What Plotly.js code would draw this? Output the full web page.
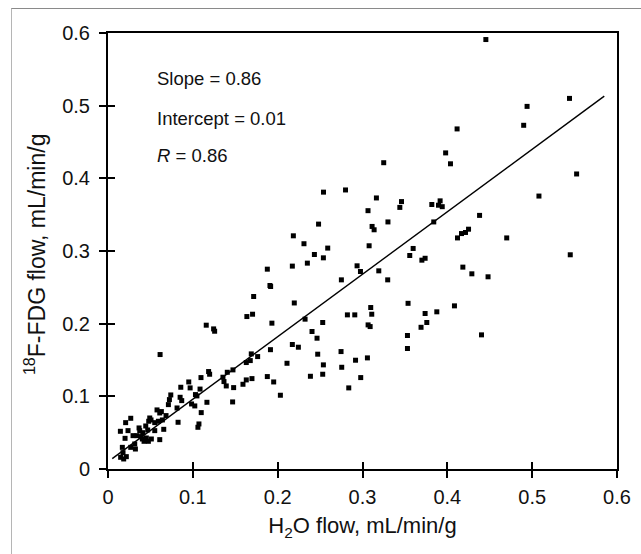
<!DOCTYPE html>
<html>
<head>
<meta charset="utf-8">
<script src="https://cdn.plot.ly/plotly-3.0.1.min.js"></script>
<style>
  html, body { margin: 0; padding: 0; background: #fff; }
  #wrap { position: relative; width: 641px; height: 554px; overflow: hidden; }
  #frame { position: absolute; left: 11px; top: 8px; width: 700px; height: 700px;
           border-top: 1.5px solid #8a8a8a; border-left: 1.5px solid #b5b5b5; pointer-events: none; }
  #chart { position: absolute; left: 0; top: 0; width: 641px; height: 554px; }
</style>
</head>
<body>
<div id="wrap">
  <div id="chart"></div>
  <div id="frame"></div>
</div>
<script>
// H2O flow (x) and 18F-FDG flow (y), mL/min/g
const h2oFlow = [
  0.0858,0.0952,0.0968,0.0740,0.0724,0.0712,0.0850,0.0869,0.0814,0.1031,0.1023,0.0578,0.0610,0.0629,
  0.0492,0.0507,0.0480,0.0684,0.0641,0.0551,0.0268,0.0208,0.0445,0.0468,0.0409,0.0366,0.0551,0.0657,
  0.0594,0.0146,0.0236,0.0201,0.0295,0.0342,0.0389,0.0405,0.0452,0.0511,0.0610,0.0425,0.0476,0.0374,
  0.0315,0.0268,0.0169,0.0323,0.0177,0.0149,0.0216,0.0185,0.0826,0.1060,0.1072,0.1085,0.0614,0.0985,
  0.1158,0.1245,0.1257,0.1637,0.1704,0.1717,0.2196,0.1932,0.2173,0.2244,0.1915,0.1689,0.1677,0.1630,
  0.1764,0.2110,0.1186,0.1198,0.1096,0.1406,0.1473,0.1355,0.1367,0.1394,0.1481,0.1591,0.1630,0.1697,
  0.1878,0.1953,0.2032,0.1469,0.1166,0.1048,0.1099,0.1878,0.1909,0.1917,
  0.2482,0.2185,0.2310,0.3113,0.3137,0.2590,0.2433,0.2539,0.2350,0.2173,0.3078,0.2936,0.2976,0.3192,
  0.2751,0.2822,0.2909,0.3097,0.3109,0.3066,0.3090,0.2323,0.2531,0.2405,0.2464,0.2472,0.2747,0.2539,
  0.2755,0.2918,0.3058,0.2386,0.2531,0.2979,0.2838,0.2540,0.2800,0.3164,0.3065,
  0.4454,0.5440,0.4940,0.4900,0.4115,0.3250,0.3980,0.4037,0.5524,0.3460,0.3440,0.3817,0.3915,0.3896,
  0.3940,0.5080,0.3300,0.3840,0.4380,0.4120,0.4167,0.4214,0.4250,0.4700,0.3597,0.3557,0.3700,0.3738,
  0.3297,0.4183,0.4289,0.4480,0.5449,0.3537,0.4084,0.3876,0.3738,0.3758,0.3690,0.3530,0.3530,0.4403
];
const fdgFlow = [
  0.1125,0.1198,0.1116,0.1019,0.0955,0.0886,0.0987,0.0941,0.0840,0.1024,0.0868,0.0813,0.0771,0.0790,
  0.0702,0.0675,0.0657,0.0735,0.0675,0.0638,0.0698,0.0638,0.0592,0.0537,0.0500,0.0565,0.0528,0.0546,
  0.0657,0.0519,0.0528,0.0422,0.0459,0.0459,0.0445,0.0413,0.0427,0.0413,0.0404,0.0381,0.0381,0.0528,
  0.0344,0.0298,0.0298,0.0275,0.0225,0.0161,0.0170,0.0138,0.0643,0.0574,0.0620,0.1100,0.1575,0.0895,
  0.1979,0.1928,0.1896,0.2098,0.2130,0.2374,0.2285,0.2007,0.1713,0.1676,0.1642,0.1584,0.1492,0.1465,
  0.1547,0.1455,0.1341,0.1304,0.1258,0.1331,0.1364,0.1263,0.1203,0.1143,0.1120,0.1166,0.1226,0.1244,
  0.1272,0.1198,0.1015,0.0923,0.0918,0.1006,0.0776,0.2750,0.2525,0.2511,
  0.3370,0.3209,0.3100,0.3338,0.3292,0.3040,0.2952,0.2906,0.2833,0.2792,0.3072,0.2796,0.2718,0.2727,
  0.2603,0.2121,0.2121,0.2222,0.2130,0.1983,0.1960,0.2062,0.2016,0.1892,0.1800,0.1580,0.1616,0.1433,
  0.1400,0.1497,0.1529,0.1276,0.1304,0.1258,0.1116,0.3810,0.3840,0.3730,0.3555,
  0.5910,0.5100,0.4990,0.4730,0.4680,0.4215,0.4350,0.4200,0.4060,0.3680,0.3600,0.3640,0.3690,0.3630,
  0.3610,0.3756,0.3400,0.3400,0.3490,0.3180,0.3240,0.3255,0.3300,0.3180,0.3035,0.2938,0.2874,0.2900,
  0.2603,0.2778,0.2686,0.2645,0.2948,0.2280,0.2245,0.2163,0.2140,0.2016,0.1950,0.1837,0.1658,0.1846
];
const fitSlope = 0.86;
const fitIntercept = 0.01;
const fitR = 0.86;
const fitXRange = [0.005, 0.585];
const xTickVals = [0, 0.1, 0.2, 0.3, 0.4, 0.5, 0.6];
const xTickText = ['0', '0.1', '0.2', '0.3', '0.4', '0.5', '0.6'];
const yTickVals = [0, 0.1, 0.2, 0.3, 0.4, 0.5, 0.6];
const yTickText = ['0', '0.1', '0.2', '0.3', '0.4', '0.5', '0.6'];
const xTitle = 'H<sub>2</sub>O flow, mL/min/g';
const yTitle = '<sup>18</sup>F-FDG flow, mL/min/g';

const FONT = 'Liberation Sans, Arial, Helvetica, sans-serif';
const INK = '#111';

const fitY = fitXRange.map(x => fitSlope * x + fitIntercept);

const traces = [
  {
    type: 'scatter', mode: 'lines', x: fitXRange, y: fitY,
    line: { color: '#000', width: 1.4 }, hoverinfo: 'skip', showlegend: false
  },
  {
    type: 'scatter', mode: 'markers', x: h2oFlow, y: fdgFlow,
    marker: { symbol: 'square', size: 5, color: '#000', line: { width: 0 } },
    showlegend: false
  },
  { type: 'scatter', x: [], y: [], xaxis: 'x2', yaxis: 'y2', showlegend: false, hoverinfo: 'skip' }
];

const baseAxis = {
  range: [0, 0.6], showgrid: false, zeroline: false, showline: true, mirror: true,
  linecolor: '#000', linewidth: 2, ticks: 'outside', ticklen: 7, tickwidth: 2, tickcolor: '#000',
  tickfont: { family: FONT, size: 20, color: INK }, automargin: false, fixedrange: true
};

const layout = {
  width: 641, height: 554,
  margin: { l: 108, r: 24, t: 33, b: 85, pad: 0 },
  paper_bgcolor: 'rgba(0,0,0,0)', plot_bgcolor: '#fff',
  showlegend: false,
  font: { family: FONT, color: INK },
  xaxis: Object.assign({}, baseAxis, {
    tickmode: 'array', tickvals: xTickVals, ticktext: xTickText,
    ticklabelstandoff: 2,
    title: { text: xTitle, font: { family: FONT, size: 22, color: INK }, standoff: 11 }
  }),
  yaxis: Object.assign({}, baseAxis, {
    tickmode: 'array', tickvals: yTickVals, ticktext: yTickText,
    ticklabelstandoff: 5
  }),
  xaxis2: {
    overlaying: 'x', anchor: 'y', side: 'bottom', range: [0, 0.6], showgrid: false, zeroline: false,
    showline: false, ticks: 'inside', ticklen: 7, tickwidth: 2, tickcolor: '#000',
    tickmode: 'array', tickvals: xTickVals, showticklabels: false, fixedrange: true
  },
  yaxis2: {
    overlaying: 'y', anchor: 'x', side: 'left', range: [0, 0.6], showgrid: false, zeroline: false,
    showline: false, ticks: 'inside', ticklen: 7, tickwidth: 2, tickcolor: '#000',
    tickmode: 'array', tickvals: yTickVals, showticklabels: false, fixedrange: true
  },
  annotations: [
    { text: yTitle, textangle: -90, x: -0.143, y: 0.296, xref: 'paper', yref: 'y',
      xanchor: 'center', yanchor: 'middle', showarrow: false, font: { family: FONT, size: 23, color: INK } },
    { text: 'Slope = ' + fitSlope.toFixed(2), x: 0.055, y: 0.538, xref: 'x', yref: 'y',
      xanchor: 'left', yanchor: 'middle', showarrow: false, font: { family: FONT, size: 18.5, color: INK } },
    { text: 'Intercept = ' + fitIntercept.toFixed(2), x: 0.055, y: 0.483, xref: 'x', yref: 'y',
      xanchor: 'left', yanchor: 'middle', showarrow: false, font: { family: FONT, size: 18.5, color: INK } },
    { text: '<i>R</i> = ' + fitR.toFixed(2), x: 0.055, y: 0.431, xref: 'x', yref: 'y',
      xanchor: 'left', yanchor: 'middle', showarrow: false, font: { family: FONT, size: 18.5, color: INK } }
  ]
};

Plotly.newPlot('chart', traces, layout, { displayModeBar: false, staticPlot: true });
</script>
</body>
</html>
